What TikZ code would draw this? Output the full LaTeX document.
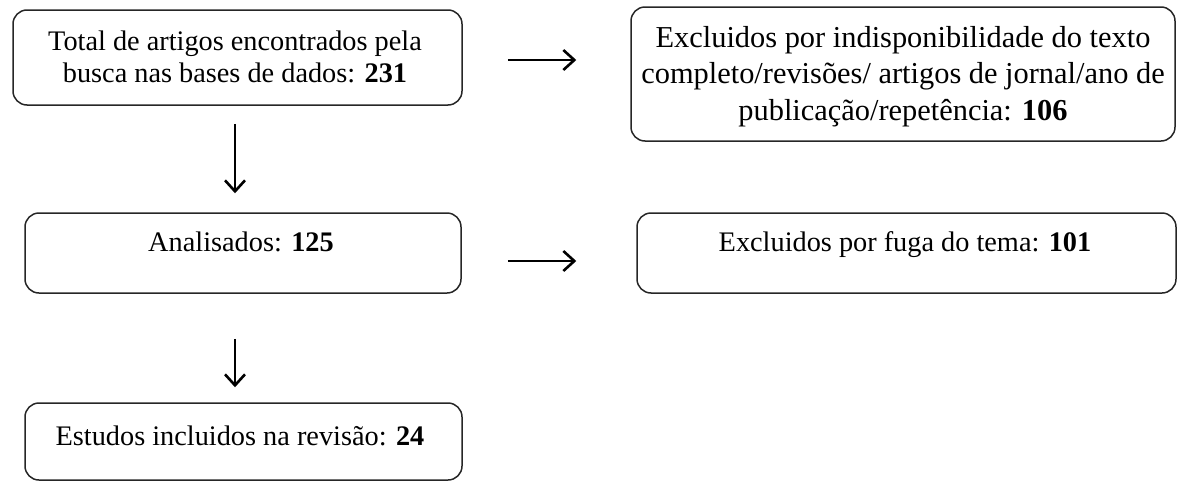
\documentclass[tikz,border=0pt]{standalone}
\usepackage{fontspec}
\setmainfont{Liberation Serif}
\usetikzlibrary{arrows.meta,calc}
\tikzset{
  box/.style={draw=black!85, line width=1.5pt, rounded corners=14pt, inner sep=0pt, fill=none},
  txt/.style={inner sep=0pt, align=center, font=\fontsize{28.3}{32}\selectfont},
  txtbig/.style={inner sep=0pt, align=center, font=\fontsize{30.4}{36.5}\selectfont},
  arr/.style={line width=2.6pt, -{Straight Barb[length=11pt,width=20pt,line width=2.6pt]}}
}
\begin{document}
\begin{tikzpicture}[x=1pt,y=-1pt]
\useasboundingbox (0,0) rectangle (1178,482);
% boxes
\node[box, minimum width=449pt, minimum height=95pt] (b1) at (237.5,57.5) {};
\node[box, minimum width=544pt, minimum height=134pt] (b2) at (903,74) {};
\node[box, minimum width=436pt, minimum height=80pt] (b3) at (243,253) {};
\node[box, minimum width=539pt, minimum height=80pt] (b4) at (906.5,253) {};
\node[box, minimum width=437pt, minimum height=77pt] (b5) at (243.5,441.5) {};
% texts (base anchor = baseline of the last line)
\node[txt, anchor=base] (t1) at (235,82) {Total de artigos encontrados pela\\busca nas bases de dados: \textbf{231}};
\node[txtbig, anchor=base] (t2) at (903,120) {Excluidos por indisponibilidade do texto\\completo/revisões/ artigos de jornal/ano de\\publicação/repetência: \textbf{106}};
\node[txt, anchor=base] (t3) at (241,251) {Analisados: \textbf{125}};
\node[txt, anchor=base] (t4) at (905,251) {Excluidos por fuga do tema: \textbf{101}};
\node[txt, anchor=base] (t5) at (240,445) {Estudos incluidos na revisão: \textbf{24}};
% connectors
\draw[arr, shorten <=45pt, shorten >=54pt] ([yshift=-2.5pt]b1.east) -- ([yshift=-2.5pt]b1.east -| b2.west);
\draw[arr, shorten <=46pt, shorten >=60pt] ([yshift=-8pt]b3.east) -- ([yshift=-8pt]b3.east -| b4.west);
\draw[arr, shorten <=18pt, shorten >=19pt] ([xshift=-2.5pt]b1.south) -- ([xshift=-2.5pt]b1.south |- b3.north);
\draw[arr, shorten <=45pt, shorten >=15pt] ([xshift=-8pt]b3.south) -- ([xshift=-8pt]b3.south |- b5.north);
\end{tikzpicture}
\end{document}
